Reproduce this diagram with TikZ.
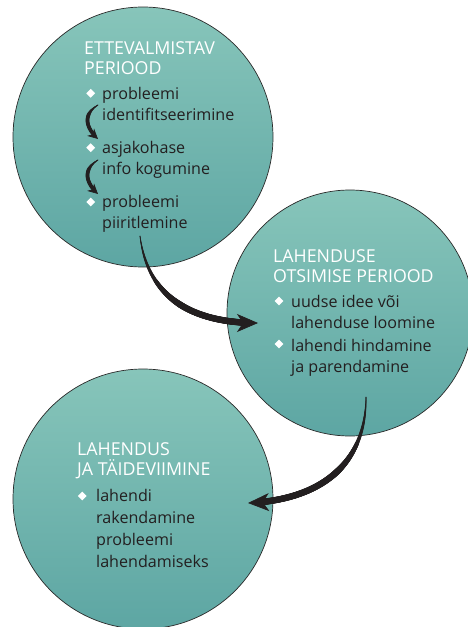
\documentclass[tikz,border=0pt]{standalone}
\usepackage{fontspec}
\setmainfont{Open Sans}
\usetikzlibrary{arrows.meta,shapes.geometric,decorations.markings}
\definecolor{tealtop}{HTML}{87C5BA}
\definecolor{tealbot}{HTML}{5DA6A3}
\definecolor{ink}{HTML}{231F20}
\definecolor{rim}{HTML}{2A2A2A}
\tikzset{
  phase/.style={circle, draw=rim, line width=0.7pt, top color=tealtop,
    bottom color=tealbot, minimum size=#1, inner sep=0pt},
  % multi-line nodes are placed by the baseline of their last line
  heading/.style={anchor=base west, align=left, inner sep=0pt, text=white,
    font=\fontsize{17.8}{20}\selectfont},
  item/.style={anchor=base west, align=left, inner sep=0pt, text=ink,
    font=\fontsize{16.1}{21}\selectfont},
  dot/.style={diamond, fill=white, inner sep=0pt, minimum size=9pt},
  % tapering arrow: tip length, tip width, tip inset, growth, max radius, body end
  taper/.style n args={6}{draw=ink, line width=0.7pt,
    -{Stealth[length=#1, width=#2, inset=#3]},
    postaction={decorate, decoration={markings,
      mark=between positions 0 and #6 step 0.4pt with {%
        \pgfmathsetmacro\tr{min(#5, 0.35 + #4*\pgfkeysvalueof{/pgf/decoration/mark info/distance from start})}%
        \fill[ink] (0,0) circle[radius=\tr pt];}}}},
}
\begin{document}
\begin{tikzpicture}[x=1pt, y=-1pt]
\useasboundingbox (0,0) rectangle (468,627);
\clip (0,0) rectangle (468,627);

% the three phases
\node[phase=260pt] (prep) at (143,137) {};
\node[phase=246pt] (search) at (350,313) {};
\node[phase=260pt] (impl) at (143,499) {};

% preparatory period
\node[heading] (h1) at (84,74) {ETTEVALMISTAV\\PERIOOD};
\node[dot] (d11) at (90.7,93.3) {};
\node[item] (i11) at (102,120) {probleemi\\identifitseerimine};
\node[dot] (d12) at (90.7,147.7) {};
\node[item] (i12) at (102,174.5) {asjakohase\\info kogumine};
\node[dot] (d13) at (90.7,202) {};
\node[item] (i13) at (102,228) {probleemi\\piiritlemine};

% search period
\node[heading] (h2) at (273,282) {LAHENDUSE\\OTSIMISE PERIOOD};
\node[dot] (d21) at (279,301) {};
\node[item] (i21) at (291,328) {uudse idee või\\lahenduse loomine};
\node[dot] (d22) at (279,344) {};
\node[item] (i22) at (291,372.5) {lahendi hindamine\\ja parendamine};

% solution and implementation
\node[heading] (h3) at (77,475) {LAHENDUS\\JA TÄIDEVIIMINE};
\node[dot] (d31) at (82.3,496) {};
\node[item, font=\fontsize{16.1}{21.7}\selectfont] (i31) at (96,567)
  {lahendi\\rakendamine\\probleemi\\lahendamiseks};

% arrow end points
\coordinate (a1s) at (98,105);  \coordinate (a1e) at (98,139);
\coordinate (a2s) at (98,160);  \coordinate (a2e) at (98,194);
\coordinate (b1s) at (140,236); \coordinate (b1e) at (258,323);
\coordinate (b2s) at (366,397); \coordinate (b2e) at (248,503);

% arrows between the steps
\draw[taper={10pt}{10pt}{3pt}{0.11}{1.9}{-7pt}]
  (a1s) .. controls +(-15,9) and +(-13,-12) .. (a1e);
\draw[taper={10pt}{10pt}{3pt}{0.11}{1.9}{-7pt}]
  (a2s) .. controls +(-15,9) and +(-13,-12) .. (a2e);
\draw[taper={21pt}{18pt}{6pt}{0.035}{3.2}{-15pt}]
  (b1s) .. controls +(8,64) and +(-63,0) .. (b1e);
\draw[taper={21pt}{18pt}{6pt}{0.035}{3.2}{-15pt}]
  (b2s) .. controls +(0,68) and +(72,-3) .. (b2e);
\end{tikzpicture}
\end{document}
